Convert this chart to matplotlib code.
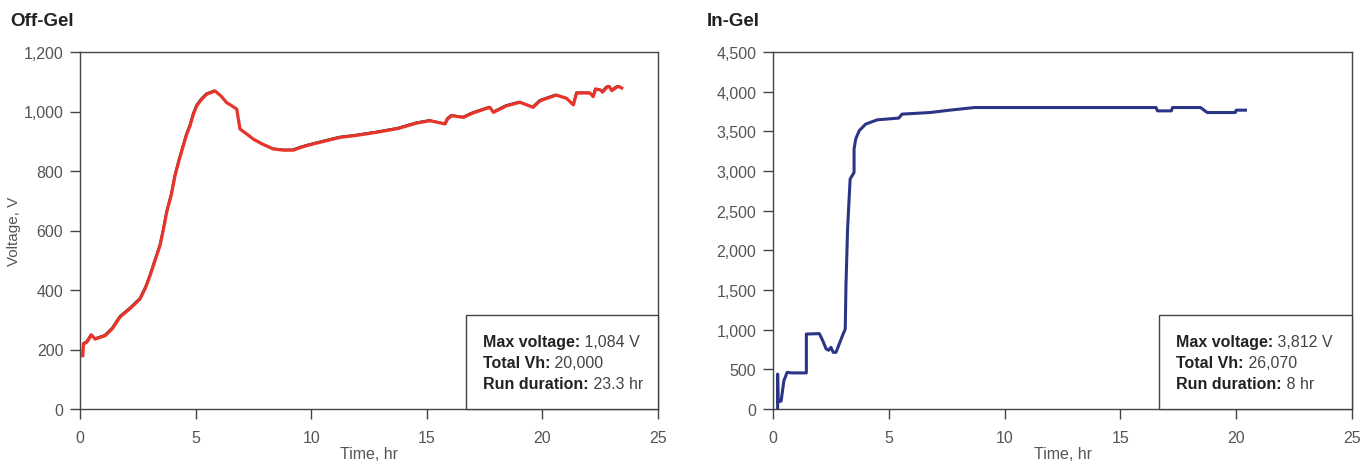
import matplotlib
matplotlib.use("Agg")
import matplotlib.pyplot as plt
from matplotlib.patches import Rectangle
from matplotlib import transforms

plt.rcParams['font.family'] = ['Liberation Sans', 'DejaVu Sans']

# ---- data ----
off_time = [0.12, 0.15, 0.3, 0.5, 0.65, 1.08, 1.4, 1.73, 2.2, 2.6, 2.85, 3.03, 3.25, 3.46, 3.6,
            3.75, 3.95, 4.11, 4.3, 4.47, 4.6, 4.76, 4.9, 5.05, 5.25, 5.48, 5.65, 5.84, 6.1, 6.34,
            6.55, 6.78, 6.92, 7.2, 7.5, 7.9, 8.36, 8.8, 9.23, 9.5, 9.8, 10.2, 10.67, 11.25, 11.9,
            12.83, 13.77, 14.56, 15.14, 15.79, 15.9, 16.08, 16.58, 17.0, 17.73, 17.88, 18.45,
            19.03, 19.6, 19.9, 20.6, 21.05, 21.34, 21.48, 22.06, 22.2, 22.3, 22.5, 22.6, 22.78,
            22.9, 23.0, 23.2, 23.3, 23.43]
off_volt = [179, 218, 225, 249, 235, 246, 270, 309, 340, 370, 410, 448, 500, 549, 600,
            661, 720, 784, 840, 885, 920, 952, 990, 1019, 1040, 1058, 1063, 1069, 1052, 1030,
            1020, 1008, 941, 925, 907, 890, 874, 870, 870, 878, 885, 893, 902, 913, 919,
            930, 943, 961, 969, 958, 975, 986, 980, 995, 1014, 997, 1019,
            1031, 1014, 1036, 1055, 1044, 1022, 1062, 1062, 1050, 1075, 1073, 1065, 1081,
            1084, 1070, 1081, 1084, 1079]

in_time = [0.2, 0.2, 0.22, 0.35, 0.47, 0.61, 0.8, 1.44, 1.44, 2.0, 2.15, 2.29, 2.4, 2.5, 2.6,
           2.72, 2.86, 3.0, 3.12, 3.15, 3.22, 3.33, 3.5, 3.5, 3.57, 3.72, 4.0, 4.5, 5.43, 5.57,
           6.78, 7.64, 8.7, 16.54, 16.6, 17.2, 17.25, 18.46, 18.75, 19.96, 20.0, 20.4]
in_volt = [0, 440, 90, 100, 357, 462, 455, 455, 945, 950, 860, 760, 740, 777, 715,
           714, 819, 924, 1008, 1554, 2268, 2898, 2982, 3276, 3402, 3507, 3591, 3645, 3667, 3717,
           3737, 3767, 3800, 3800, 3758, 3758, 3800, 3800, 3737, 3737, 3767, 3767]

x_ticks = [0, 5, 10, 15, 20, 25]
off_yticks = [0, 200, 400, 600, 800, 1000, 1200]
in_yticks = [0, 500, 1000, 1500, 2000, 2500, 3000, 3500, 4000, 4500]

off_info = [("Max voltage:", " 1,084 V"), ("Total Vh:", " 20,000"), ("Run duration:", " 23.3 hr")]
in_info = [("Max voltage:", " 3,812 V"), ("Total Vh:", " 26,070"), ("Run duration:", " 8 hr")]

# ---- figure ----
fig = plt.figure(figsize=(13.61, 4.64), dpi=100)
ax1 = fig.add_axes([80/1361, 1-410/464, 578/1361, 357/464])
ax2 = fig.add_axes([773/1361, 1-410/464, 579/1361, 357/464])

tick_color = '#555555'
spine_color = '#444444'


def style(ax, yticks, ylim):
    ax.set_xlim(0, 25)
    ax.set_ylim(*ylim)
    ax.set_xticks(x_ticks)
    ax.set_yticks(yticks)
    ax.set_yticklabels([f"{v:,}" for v in yticks])
    for s in ax.spines.values():
        s.set_color(spine_color)
        s.set_linewidth(1.0)
    ax.tick_params(axis='both', direction='out', length=7, width=1.0, color=spine_color,
                   labelcolor=tick_color, labelsize=11.5)
    ax.tick_params(axis='x', pad=8)
    ax.tick_params(axis='y', pad=5)
    ax.set_xlabel("Time, hr", fontsize=11.5, color=tick_color, labelpad=1)


style(ax1, off_yticks, (0, 1200))
style(ax2, in_yticks, (0, 4500))
ax1.set_ylabel("Voltage, V", fontsize=11, color=tick_color)
ax1.yaxis.set_label_coords((21-80)/578, 0.5)

# lines
off_tr = transforms.offset_copy(ax1.transData, fig=fig, x=-0.8, y=1.1, units='dots')
ax1.plot(off_time, off_volt, color='#111111', lw=0.7, zorder=3, transform=off_tr)
ax1.plot(off_time, off_volt, color='#e8352b', lw=2.3, zorder=4)

ax2.plot(in_time, in_volt, color='#2b3585', lw=2.2, zorder=3)

# titles
fig.text(10/1361, 1-21/464, "Off-Gel", fontsize=13.5, fontweight='bold', color='#222222',
         va='center', ha='left')
fig.text(707/1361, 1-21/464, "In-Gel", fontsize=13.5, fontweight='bold', color='#222222',
         va='center', ha='left')


def info_box(ax, x0, info, width_px):
    ax.add_patch(Rectangle((x0, 0), 1 - x0, 94/357, transform=ax.transAxes, fill=True,
                           facecolor='white', edgecolor=spine_color, lw=1.0, zorder=5,
                           clip_on=False))
    ys = [1-(347-53)/357, 1-(368-53)/357, 1-(389.5-53)/357]
    for (b, r), y in zip(info, ys):
        t = ax.text(x0 + 17/width_px, y, b, transform=ax.transAxes, fontsize=11.5,
                    fontweight='bold', color='#222222', va='baseline', ha='left', zorder=6)
        ax.annotate(r, xy=(1, 0), xycoords=t, va='bottom', ha='left', fontsize=11.5,
                    color='#444444', zorder=6)


info_box(ax1, (466-80)/578, off_info, 578)
info_box(ax2, (1159-773)/579, in_info, 579)

fig.savefig("out.png", dpi=100)
